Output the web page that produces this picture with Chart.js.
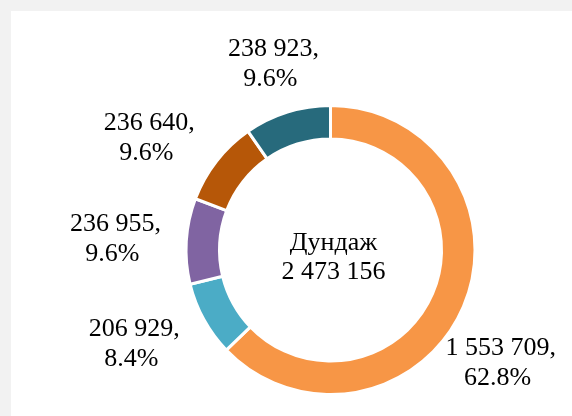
<!DOCTYPE html>
<html>
<head>
<meta charset="utf-8">
<script src="https://cdn.jsdelivr.net/npm/chart.js@4"></script>
<style>
    html, body { margin: 0; padding: 0; background: #f2f2f2; }
    #panel { position: absolute; left: 11px; top: 11px; width: 561px; height: 405px; background: #ffffff; }
</style>
</head>
<body>
<div id="panel"><canvas id="donut" width="561" height="405"></canvas></div>
<script>
// --- data ---
const categories = ['A', 'B', 'C', 'D', 'E'];
const values = [1553709, 206929, 236955, 236640, 238923];
const percents = [62.8, 8.4, 9.6, 9.6, 9.6];   // as printed on the chart
const centerTitle = 'Дундаж';
const sliceColors = ['#f79646', '#4bacc6', '#8064a2', '#b65708', '#276a7c'];

function fmt(n) {
    return String(n).replace(/\B(?=(\d{3})+(?!\d))/g, ' ');
}

const total = values.reduce((a, b) => a + b, 0);
const FONT = '26px "Liberation Serif", "Times New Roman", serif';

// labels outside each slice, placed from the arc geometry
const sliceLabels = {
    id: 'sliceLabels',
    afterDatasetsDraw(chart, args, opts) {
        const ctx = chart.ctx;
        const arcs = chart.getDatasetMeta(0).data;
        ctx.save();
        ctx.font = FONT;
        ctx.fillStyle = '#000';
        ctx.textAlign = 'center';
        ctx.textBaseline = 'alphabetic';
        arcs.forEach((arc, i) => {
            const p = arc.getProps(['x', 'y', 'startAngle', 'endAngle', 'outerRadius'], true);
            const mid = (p.startAngle + p.endAngle) / 2;
            const r = p.outerRadius + opts.distance;
            const nudge = opts.nudges[i] || [0, 0];
            const cx = p.x + Math.cos(mid) * r + nudge[0];
            const cy = p.y + Math.sin(mid) * r + nudge[1];
            ctx.fillText(fmt(values[i]) + ',', cx, cy - 7);
            ctx.fillText(percents[i].toFixed(1) + '%', cx - 3, cy + 23);
        });
        // centre text
        const a0 = arcs[0];
        ctx.fillText(centerTitle, a0.x + 3, a0.y);
        ctx.fillText(fmt(total), a0.x + 3, a0.y + 29);
        ctx.restore();
    }
};

new Chart(document.getElementById('donut').getContext('2d'), {
    type: 'doughnut',
    data: {
        labels: categories,
        datasets: [{
            data: values,
            backgroundColor: sliceColors,
            borderColor: '#ffffff',
            borderWidth: 3
        }]
    },
    options: {
        responsive: false,
        animation: false,
        radius: 144.5,
        cutout: 109.5,
        layout: { padding: { left: 175, right: 97, top: 95, bottom: 22 } },
        plugins: {
            legend: { display: false },
            tooltip: { enabled: false },
            sliceLabels: {
                distance: 60,
                nudges: [[-18, 32], [-17, -5], [-11, 1], [-20, 13], [4, 8]]
            }
        }
    },
    plugins: [sliceLabels]
});
</script>
</body>
</html>
